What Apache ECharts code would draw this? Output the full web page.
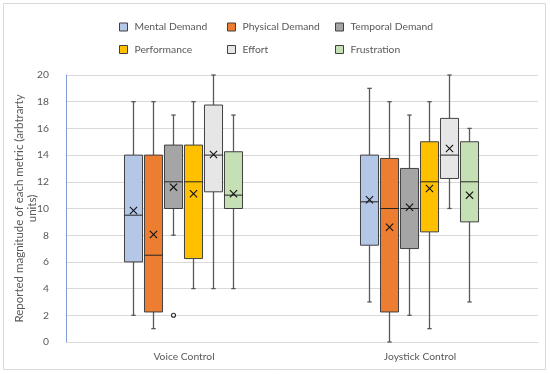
<!DOCTYPE html>
<html>
<head>
<meta charset="utf-8">
<script src="https://cdn.jsdelivr.net/npm/echarts@6/dist/echarts.min.js"></script>
<style>html,body{margin:0;padding:0;background:#fff}#c{width:550px;height:374px}</style>
</head>
<body>
<div id="c"></div>
<script>
// ---- data ----
const categories = ['Voice Control', 'Joystick Control'];
const seriesNames = ['Mental Demand', 'Physical Demand', 'Temporal Demand', 'Performance', 'Effort', 'Frustration'];
const seriesColors = ['#B4C7E7', '#ED7D31', '#A5A5A5', '#FFC000', '#E6E6E6', '#C5E0B4'];
// each row: [min, q1, median, q3, max, mean] per category
const mental      = [[2, 6, 9.5, 14, 18, 9.85], [3, 7.25, 10.5, 14, 19, 10.65]];
const physical    = [[1, 2.25, 6.5, 14, 18, 8.05], [0, 2.25, 10, 13.75, 18, 8.6]];
const temporal    = [[8, 10, 12, 14.75, 17, 11.6], [2, 7, 10, 13, 17, 10.1]];
const performance = [[4, 6.25, 12, 14.75, 18, 11.1], [1, 8.25, 12, 15, 18, 11.5]];
const effort      = [[4, 11.25, 14, 17.75, 20, 14.05], [10, 12.25, 14, 16.75, 20, 14.5]];
const frustration = [[4, 10, 11, 14.25, 17, 11.1], [3, 9, 12, 15, 16, 11.0]];
// outliers: [categoryIndex, value]
const temporalOutliers = [[0, 2]];
const yTicks = [0, 2, 4, 6, 8, 10, 12, 14, 16, 18, 20];

const allStats = [mental, physical, temporal, performance, effort, frustration];
const SPACING = 0.0843; // fraction of band between neighbouring boxes
const BOXW = 0.0765;    // fraction of band for box width
const FONT = 'Lato';
const FS = 10.3;

function makeBoxRender(slot) {
  return function (params, api) {
    const cat = api.value(0);
    const bw = api.size([1, 0])[0];
    const center = api.coord([cat, 0])[0];
    const cx = Math.round(center + (slot - 2.5) * bw * SPACING) - 0.5;
    const hw = bw * BOXW / 2;
    const y = v => api.coord([cat, v])[1];
    const yMin = y(api.value(1)), yQ1 = y(api.value(2)), yMed = y(api.value(3)),
          yQ3 = y(api.value(4)), yMax = y(api.value(5)), yMean = y(api.value(6));
    const wStyle = { stroke: '#595959', lineWidth: 1.3 };
    const cap = 2.2, xs = 3.6;
    return {
      type: 'group',
      children: [
        { type: 'line', shape: { x1: cx, y1: yMax, x2: cx, y2: yQ3 }, style: wStyle },
        { type: 'line', shape: { x1: cx, y1: yQ1, x2: cx, y2: yMin }, style: wStyle },
        { type: 'line', shape: { x1: cx - cap, y1: yMax, x2: cx + cap, y2: yMax }, style: wStyle },
        { type: 'line', shape: { x1: cx - cap, y1: yMin, x2: cx + cap, y2: yMin }, style: wStyle },
        { type: 'rect', shape: { x: cx - hw, y: yQ3, width: hw * 2, height: yQ1 - yQ3 },
          style: { fill: seriesColors[slot], stroke: '#404040', lineWidth: 1 } },
        { type: 'line', shape: { x1: cx - hw, y1: yMed, x2: cx + hw, y2: yMed }, style: { stroke: '#262626', lineWidth: 1 } },
        { type: 'line', shape: { x1: cx - xs, y1: yMean - xs, x2: cx + xs, y2: yMean + xs }, style: { stroke: '#111', lineWidth: 1.1 } },
        { type: 'line', shape: { x1: cx - xs, y1: yMean + xs, x2: cx + xs, y2: yMean - xs }, style: { stroke: '#111', lineWidth: 1.1 } }
      ]
    };
  };
}

function makeOutlierRender(slot) {
  return function (params, api) {
    const cat = api.value(0);
    const bw = api.size([1, 0])[0];
    const center = api.coord([cat, 0])[0];
    const cx = Math.round(center + (slot - 2.5) * bw * SPACING) - 0.5;
    const cy = api.coord([cat, api.value(1)])[1];
    return { type: 'circle', shape: { cx: cx, cy: cy, r: 2 }, style: { fill: '#fff', stroke: '#262626', lineWidth: 1.1 } };
  };
}

const series = seriesNames.map((name, i) => ({
  name: name,
  type: 'custom',
  renderItem: makeBoxRender(i),
  itemStyle: { color: seriesColors[i], borderColor: '#404040', borderWidth: 1 },
  encode: { x: 0, y: [1, 2, 3, 4, 5, 6] },
  data: allStats[i].map((s, ci) => [ci].concat(s))
}));
series.push({
  name: 'Temporal Demand outliers',
  type: 'custom',
  renderItem: makeOutlierRender(2),
  encode: { x: 0, y: 1 },
  data: temporalOutliers
});

const legendCommon = {
  orient: 'vertical', itemWidth: 8, itemHeight: 8, itemGap: 12.5, icon: 'rect',
  textStyle: { fontFamily: FONT, fontSize: FS, color: '#595959', padding: [0, 0, 0, 2] },
  itemStyle: { borderColor: '#404040', borderWidth: 1 }, padding: 0
};

const chart = echarts.init(document.getElementById('c'), null, { renderer: 'canvas' });
chart.setOption({
  animation: false,
  backgroundColor: '#fff',
  graphic: [{ type: 'rect', shape: { x: 3.5, y: 3.5, width: 542, height: 366 }, style: { fill: 'none', stroke: '#D9D9D9', lineWidth: 1 }, silent: true }],
  legend: [
    Object.assign({ left: 119, top: 22, data: [seriesNames[0], seriesNames[3]] }, legendCommon),
    Object.assign({ left: 227, top: 22, data: [seriesNames[1], seriesNames[4]] }, legendCommon),
    Object.assign({ left: 335, top: 22, data: [seriesNames[2], seriesNames[5]] }, legendCommon)
  ],
  grid: { left: 66, right: 12, top: 75, bottom: 32, containLabel: false },
  xAxis: {
    type: 'category', data: categories,
    axisLine: { lineStyle: { color: '#D9D9D9' } },
    axisTick: { show: false },
    axisLabel: { fontFamily: FONT, fontSize: FS, color: '#595959', margin: 10 }
  },
  yAxis: {
    type: 'value', min: yTicks[0], max: yTicks[yTicks.length - 1], interval: 2,
    name: 'Reported magnitude of each metric (arbtrarty\nunits)',
    nameLocation: 'middle', nameRotate: 90, nameGap: 27, nameMoveOverlap: false,
    nameTextStyle: { fontFamily: FONT, fontSize: 11.5, color: '#595959', lineHeight: 13, align: 'center' },
    axisLine: { show: true, lineStyle: { color: '#7F9CD6', width: 1 } },
    axisTick: { show: false },
    splitLine: { lineStyle: { color: '#D9D9D9', width: 1 } },
    axisLabel: { fontFamily: FONT, fontSize: FS, color: '#595959', margin: 17 }
  },
  series: series
});
</script>
</body>
</html>
